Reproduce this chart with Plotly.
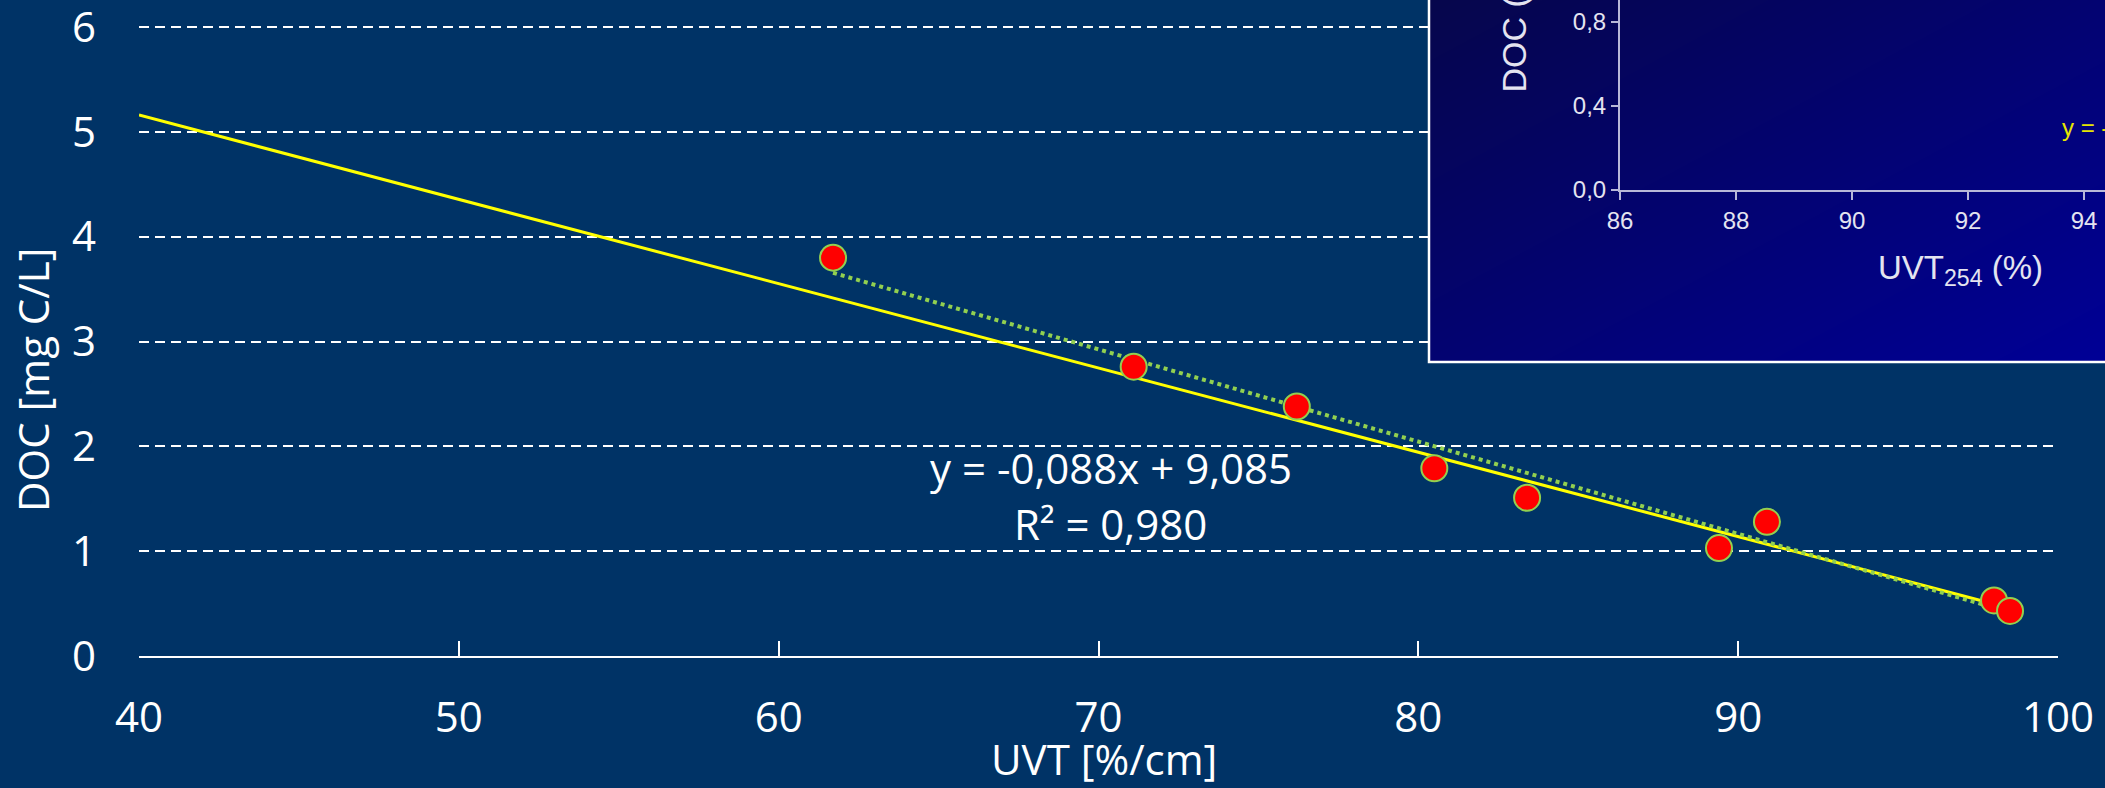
import plotly.graph_objects as go

# DOC measured against UV transmittance
uvt = [61.7, 71.1, 76.2, 80.5, 83.4, 89.4, 90.9, 98.0, 98.5]
doc = [3.80, 2.76, 2.38, 1.79, 1.51, 1.03, 1.28, 0.53, 0.43]

# Linear regression printed on the chart
fit_slope = -0.088
fit_intercept = 9.085
fit_r2 = 0.980

# Yellow comparison line (end points)
ref_x = [40, 97.7]
ref_y = [5.16, 0.52]

x_ticks = [40, 50, 60, 70, 80, 90, 100]
y_ticks = [0, 1, 2, 3, 4, 5, 6]

# Inset chart ticks
inset_x_ticks = [86, 88, 90, 92, 94]
inset_y_ticks = [0.0, 0.4, 0.8]

# Inset background gradient corners (bottom row first)
inset_shade = [[0.5, 1.0], [0.0, 0.5]]

W, H = 2105, 788
BG = "#003366"
WHITE = "#ffffff"
GREEN = "#92D050"
FONT = "Open Sans"
INSET_FONT = "Liberation Sans"
INSET_INK = "#e4e4f0"


def fx(px):
    return px / W


def fy(px):
    return 1 - px / H


def num(v):
    return f"{v:.3f}".replace(".", ",")


fit_x = [min(uvt), max(uvt)]
fit_y = [fit_slope * v + fit_intercept for v in fit_x]

fig = go.Figure()

# main chart
fig.add_trace(go.Scatter(
    x=ref_x, y=ref_y, mode="lines",
    line=dict(color="#ffff00", width=3),
    hoverinfo="skip", xaxis="x", yaxis="y",
))
fig.add_trace(go.Scatter(
    x=fit_x, y=fit_y, mode="lines",
    line=dict(color=GREEN, width=4, dash="4px,4px"),
    hoverinfo="skip", xaxis="x", yaxis="y",
))
fig.add_trace(go.Scatter(
    x=uvt, y=doc, mode="markers",
    marker=dict(size=26, color="#ff0000", line=dict(color=GREEN, width=2)),
    xaxis="x", yaxis="y",
))

# inset background
fig.add_trace(go.Heatmap(
    z=inset_shade, x=[0, 1], y=[0, 1], zsmooth="best",
    colorscale=[[0, "#06064c"], [1, "#000096"]],
    showscale=False, hoverinfo="skip", xaxis="x2", yaxis="y2",
))

# inset axes carrier
fig.add_trace(go.Scatter(
    x=[inset_x_ticks[0]], y=[inset_y_ticks[0]], mode="markers",
    marker=dict(size=1, opacity=0), hoverinfo="skip",
    xaxis="x3", yaxis="y3",
))

# main plot geometry (pixels)
main_left, main_right = 139, 2058
y_zero_px, y_six_px = 656, 27
px_per_doc = (y_zero_px - y_six_px) / 6
y_top = 6.03
main_top = y_zero_px - y_top * px_per_doc

inset_left, inset_bottom = 1620, 190
inset_px_x, inset_px_y = 58, 210

fig.update_layout(
    width=W, height=H,
    margin=dict(l=0, r=0, t=0, b=0, autoexpand=False),
    paper_bgcolor=BG,
    plot_bgcolor="rgba(0,0,0,0)",
    showlegend=False,
    separators=", ",
    font=dict(family=FONT, color=WHITE, size=42),
    xaxis=dict(
        domain=[fx(main_left), fx(main_right)], range=[40, 100], anchor="y",
        automargin=False,
        tickvals=x_ticks, showgrid=False, zeroline=False,
        showline=True, linecolor=WHITE, linewidth=2,
        ticks="inside", ticklen=15, tickwidth=2, tickcolor=WHITE,
        tickfont=dict(family=FONT, size=42, color=WHITE),
        ticklabelstandoff=24, ticklabeloverflow="allow",
    ),
    yaxis=dict(
        domain=[fy(y_zero_px), fy(main_top)], range=[0, y_top], anchor="x",
        automargin=False,
        tickvals=y_ticks, showline=False, zeroline=False, ticks="",
        showgrid=True, gridcolor=WHITE, gridwidth=2, griddash="10px,6px",
        tickfont=dict(family=FONT, size=42, color=WHITE),
        ticklabelstandoff=42, ticklabeloverflow="allow",
    ),
    xaxis2=dict(domain=[fx(1429), 1], range=[0, 1], visible=False,
                anchor="y2", fixedrange=True, automargin=False),
    yaxis2=dict(domain=[fy(362), 1], range=[0, 1], visible=False,
                anchor="x2", fixedrange=True, automargin=False),
    xaxis3=dict(
        domain=[fx(inset_left), 1],
        range=[inset_x_ticks[0], inset_x_ticks[0] + (W - inset_left) / inset_px_x],
        anchor="y3", automargin=False,
        tickvals=inset_x_ticks, showgrid=False, zeroline=False,
        showline=True, linecolor="#b8b8d8", linewidth=2,
        ticks="outside", ticklen=8, tickwidth=2, tickcolor="#b8b8d8",
        tickfont=dict(family=INSET_FONT, size=24, color=INSET_INK),
        ticklabeloverflow="allow",
    ),
    yaxis3=dict(
        domain=[fy(inset_bottom), 1],
        range=[0, inset_bottom / inset_px_y],
        anchor="x3", automargin=False,
        tickvals=inset_y_ticks, tickformat=".1f",
        showgrid=False, zeroline=False,
        showline=True, linecolor="#b8b8d8", linewidth=2,
        ticks="outside", ticklen=7, tickwidth=2, tickcolor="#b8b8d8",
        tickfont=dict(family=INSET_FONT, size=24, color=INSET_INK),
        ticklabeloverflow="allow",
    ),
    shapes=[dict(
        type="rect", xref="paper", yref="paper",
        x0=fx(1429), x1=1.02, y0=fy(362), y1=1.02,
        line=dict(color=WHITE, width=2.5), fillcolor="rgba(0,0,0,0)",
        layer="above",
    )],
    annotations=[
        dict(text="UVT [%/cm]", xref="paper", yref="paper",
             x=fx(1104), y=fy(758), showarrow=False,
             xanchor="center", yanchor="middle",
             font=dict(family=FONT, size=42, color=WHITE)),
        dict(text="DOC [mg C/L]", xref="paper", yref="paper",
             x=fx(32), y=fy(380), showarrow=False, textangle=-90,
             xanchor="center", yanchor="middle",
             font=dict(family=FONT, size=42, color=WHITE)),
        dict(text=f"y = {num(fit_slope)}x + {num(fit_intercept)}",
             xref="paper", yref="paper", x=fx(1111), y=fy(467),
             showarrow=False, xanchor="center", yanchor="middle",
             font=dict(family=FONT, size=42, color=WHITE)),
        dict(text=f"R² = {num(fit_r2)}",
             xref="paper", yref="paper", x=fx(1110), y=fy(523),
             showarrow=False, xanchor="center", yanchor="middle",
             font=dict(family=FONT, size=42, color=WHITE)),
        # inset labels
        dict(text="UVT<sub>254</sub> (%)", xref="paper", yref="paper",
             x=fx(1960), y=fy(270), showarrow=False,
             xanchor="center", yanchor="middle",
             font=dict(family=INSET_FONT, size=33, color=INSET_INK)),
        dict(text="DOC (mg/L)", xref="paper", yref="paper",
             x=fx(1513), y=fy(95), showarrow=False, textangle=-90,
             xanchor="center", yanchor="bottom",
             font=dict(family=INSET_FONT, size=34, color=INSET_INK)),
        dict(text="y = -", xref="paper", yref="paper",
             x=fx(2060), y=fy(127), showarrow=False,
             xanchor="left", yanchor="middle",
             font=dict(family=INSET_FONT, size=24, color="#e6e600")),
    ],
)

fig.write_html("out.html")
